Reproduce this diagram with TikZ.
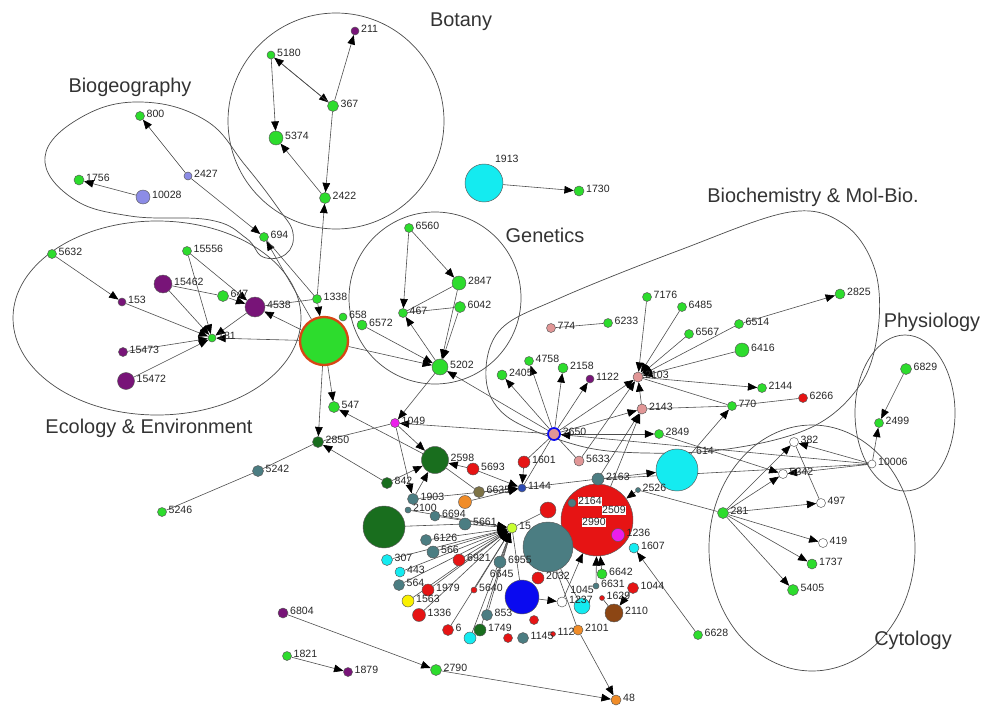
\documentclass[tikz,border=0pt]{standalone}
\usepackage{fontspec}
\setmainfont{Liberation Sans}
\usetikzlibrary{arrows.meta,backgrounds}
\definecolor{cG}{RGB}{45,220,45}
\definecolor{cP}{RGB}{120,20,120}
\definecolor{cDG}{RGB}{25,110,30}
\definecolor{cT}{RGB}{75,125,130}
\definecolor{cC}{RGB}{20,235,240}
\definecolor{cR}{RGB}{230,20,20}
\definecolor{cPK}{RGB}{225,150,150}
\definecolor{cLV}{RGB}{140,140,230}
\definecolor{cMG}{RGB}{235,30,235}
\definecolor{cB}{RGB}{10,10,240}
\definecolor{cO}{RGB}{240,140,40}
\definecolor{cBR}{RGB}{140,70,20}
\definecolor{cOL}{RGB}{125,115,70}
\definecolor{cY}{RGB}{250,240,0}
\definecolor{cYG}{RGB}{200,255,50}
\definecolor{cRim}{RGB}{215,70,20}

\begin{document}
\begin{tikzpicture}[x=0.03cm,y=-0.03cm,label distance=1pt,
  nd/.style={circle,draw=black!65,line width=0.4pt,inner sep=0pt,minimum size=#1*0.3mm},
  lbl/.style={font=\fontsize{9}{9}\selectfont,text=black!85,inner sep=0.5pt,yshift=1.5pt},
  ttl/.style={font=\fontsize{17}{17}\selectfont,text=black!80},
  hull/.style={draw=black!70,line width=0.6pt},
  ar/.style={draw=black!70,line width=0.5pt,-{Triangle[length=8pt,width=6.5pt,color=black]}},
  ln/.style={draw=black!70,line width=0.5pt}]
\useasboundingbox (0,0) rectangle (984,706);

\node[ttl] (tBiogeo) at (130,87) {Biogeography};
\node[ttl] (tBotany) at (461,22) {Botany};
\node[ttl] (tEcol) at (149,428) {Ecology \& Environment};
\node[ttl] (tGen) at (545,235) {Genetics};
\node[ttl] (tBio) at (813,197) {Biochemistry \& Mol-Bio.};
\node[ttl] (tPhys) at (932,322) {Physiology};
\node[ttl] (tCyto) at (913,640) {Cytology};

\node[nd=9,fill=cG,label={[lbl]right:800}] (n800) at (140,116) {};
\node[nd=8,fill=cLV,label={[lbl]right:2427}] (n2427) at (188,176) {};
\node[nd=10,fill=cG,label={[lbl]right:1756}] (n1756) at (79,180) {};
\node[nd=14,fill=cLV,label={[lbl]right:10028}] (n10028) at (143,197) {};
\node[nd=9,fill=cG,label={[lbl]right:694}] (n694) at (264,237) {};

\node[nd=8,fill=cP,label={[lbl]right:211}] (n211) at (355,31) {};
\node[nd=8,fill=cG,label={[lbl]right:5180}] (n5180) at (271,55) {};
\node[nd=11,fill=cG,label={[lbl]right:367}] (n367) at (333,106) {};
\node[nd=14,fill=cG,label={[lbl]right:5374}] (n5374) at (276,138) {};
\node[nd=11,fill=cG,label={[lbl]right:2422}] (n2422) at (325,198) {};

\node[nd=48,fill=cG,draw=cRim,line width=2pt] (bigE) at (324,341) {};
\node[nd=9,fill=cG,label={[lbl]right:5632}] (n5632) at (52,254) {};
\node[nd=9,fill=cG,label={[lbl]right:15556}] (n15556) at (187,251) {};
\node[nd=18,fill=cP,label={[lbl]right:15462}] (n15462) at (163,284) {};
\node[nd=8,fill=cP,label={[lbl]right:153}] (n153) at (122,302) {};
\node[nd=11,fill=cG,label={[lbl]right:647}] (n647) at (223,296) {};
\node[nd=20,fill=cP,label={[lbl]right:4538}] (n4538) at (255,307) {};
\node[nd=9,fill=cG,label={[lbl]right:1338}] (n1338) at (317,299) {};
\node[nd=8,fill=cG,label={[lbl]right:181}] (n181) at (212,338) {};
\node[nd=9,fill=cP,label={[lbl]right:15473}] (n15473) at (123,352) {};
\node[nd=17,fill=cP,label={[lbl]right:15472}] (n15472) at (126,381) {};

\node[nd=9,fill=cG,label={[lbl]right:6560}] (n6560) at (409,228) {};
\node[nd=14,fill=cG,label={[lbl]right:2847}] (n2847) at (459,283) {};
\node[nd=11,fill=cG,label={[lbl]right:6042}] (n6042) at (460,307) {};
\node[nd=9,fill=cG,label={[lbl]right:467}] (n467) at (403,313) {};
\node[nd=8,fill=cG,label={[lbl]right:658}] (n658) at (343,317) {};
\node[nd=10,fill=cG,label={[lbl]right:6572}] (n6572) at (362,325) {};
\node[nd=16,fill=cG,label={[lbl]right:5202}] (n5202) at (440,367) {};
\node[nd=11,fill=cG,label={[lbl]right:547}] (n547) at (334,407) {};
\node[nd=9,fill=cMG,label={[lbl]right:1049}] (n1049) at (395,423) {};
\node[nd=11,fill=cDG,label={[lbl]right:2850}] (n2850) at (318,442) {};
\node[nd=11,fill=cT,label={[lbl]right:5242}] (n5242) at (258,471) {};
\node[nd=9,fill=cG,label={[lbl]right:5246}] (n5246) at (162,512) {};

\node[nd=38,fill=cC,label={[lbl]60:1913}] (n1913) at (484,183) {};
\node[nd=10,fill=cG,label={[lbl]right:1730}] (n1730) at (579,191) {};

\node[nd=9,fill=cPK,label={[lbl]right:774}] (n774) at (551,328) {};
\node[nd=9,fill=cG,label={[lbl]right:6233}] (n6233) at (608,323) {};
\node[nd=9,fill=cG,label={[lbl]right:7176}] (n7176) at (647,297) {};
\node[nd=9,fill=cG,label={[lbl]right:6485}] (n6485) at (682,307) {};
\node[nd=9,fill=cG,label={[lbl]right:6514}] (n6514) at (739,324) {};
\node[nd=10,fill=cG,label={[lbl]right:2825}] (n2825) at (840,294) {};
\node[nd=9,fill=cG,label={[lbl]right:6567}] (n6567) at (689,334) {};
\node[nd=14,fill=cG,label={[lbl]right:6416}] (n6416) at (742,350) {};
\node[nd=9,fill=cG,label={[lbl]right:4758}] (n4758) at (529,361) {};
\node[nd=10,fill=cG,label={[lbl]right:2158}] (n2158) at (563,368) {};
\node[nd=10,fill=cG,label={[lbl]right:2405}] (n2405) at (502,375) {};
\node[nd=8,fill=cP,label={[lbl]right:1122}] (n1122) at (590,379) {};
\node[nd=10,fill=cPK,label={[lbl]right:2103}] (n2103) at (638,377) {};
\node[nd=9,fill=cG,label={[lbl]right:2144}] (n2144) at (762,388) {};
\node[nd=9,fill=cR,label={[lbl]right:6266}] (n6266) at (803,398) {};
\node[nd=9,fill=cG,label={[lbl]right:770}] (n770) at (732,406) {};
\node[nd=10,fill=cPK,label={[lbl]right:2143}] (n2143) at (642,409) {};
\node[nd=12,fill=cPK,draw=cB,line width=1.5pt,label={[lbl]right:2650}] (n2650) at (554,434) {};
\node[nd=9,fill=cG,label={[lbl]right:2849}] (n2849) at (659,434) {};

\node[nd=11,fill=cG,label={[lbl]right:6829}] (n6829) at (906,369) {};
\node[nd=9,fill=cG,label={[lbl]right:2499}] (n2499) at (879,423) {};
\node[nd=8,fill=white,label={[lbl]right:10006}] (n10006) at (872,464) {};

\node[nd=9,fill=white,label={[lbl]right:382}] (n382) at (794,442) {};
\node[nd=9,fill=white,label={[lbl]right:5342}] (n5342) at (783,474) {};
\node[nd=9,fill=white,label={[lbl]right:497}] (n497) at (821,503) {};
\node[nd=9,fill=white,label={[lbl]right:419}] (n419) at (823,543) {};
\node[nd=10,fill=cG,label={[lbl]right:1737}] (n1737) at (812,564) {};
\node[nd=11,fill=cG,label={[lbl]right:5405}] (n5405) at (793,590) {};
\node[nd=11,fill=cG,label={[lbl]right:281}] (n281) at (723,513) {};
\node[nd=42,fill=cC,label={[lbl]35:614}] (n614) at (677,470) {};

\node[nd=72,fill=cR] (bigR) at (597,520) {};
\node[nd=50,fill=cT] (bigT) at (548,547) {};
\node[nd=42,fill=cDG] (bigDG) at (384,527) {};
\node[nd=27,fill=cDG,label={[lbl]right:2598}] (n2598) at (435,460) {};
\node[nd=34,fill=cB,label={[lbl]115:6645}] (n6645) at (522,597) {};
\node[nd=12,fill=cT,label={[lbl]right:2163}] (n2163) at (598,479) {};
\node[nd=5,fill=cT,label={[lbl]right:2526}] (n2526) at (638,490) {};
\node[nd=8,fill=cT,label={[lbl,fill=white]right:2164}] (n2164) at (572,503) {};
\node[nd=4,fill=cR,draw=none,label={[lbl,fill=white]right:2509}] (n2509) at (598,512) {};
\node[nd=4,fill=cR,draw=none,label={[lbl,fill=white]right:2990}] (n2990) at (578,524) {};
\node[nd=13,fill=cMG,label={[lbl]right:1236}] (n1236) at (618,535) {};
\node[nd=10,fill=cC,label={[lbl]right:1607}] (n1607) at (634,548) {};
\node[nd=10,fill=cG,label={[lbl]right:6642}] (n6642) at (602,574) {};
\node[nd=6,fill=cT,label={[lbl]right:6631}] (n6631) at (596,586) {};
\node[nd=11,fill=cR,label={[lbl]right:1044}] (n1044) at (633,588) {};
\node[nd=16,fill=cC,label={[lbl]above:1045}] (n1045) at (582,606) {};
\node[nd=5,fill=cR,label={[lbl]right:1629}] (n1629) at (602,598) {};
\node[nd=18,fill=cBR,label={[lbl]right:2110}] (n2110) at (614,613) {};
\node[nd=10,fill=white,label={[lbl]right:1237}] (n1237) at (562,602) {};
\node[nd=10,fill=cO,label={[lbl]right:2101}] (n2101) at (578,630) {};
\node[nd=5,fill=cR,label={[lbl]right:112}] (n112) at (553,634) {};
\node[nd=10,fill=cO,label={[lbl]right:48}] (n48) at (616,700) {};
\node[nd=9,fill=cG,label={[lbl]right:6628}] (n6628) at (698,635) {};
\node[nd=11,fill=cG,label={[lbl]right:2790}] (n2790) at (436,670) {};
\node[nd=9,fill=cP,label={[lbl]right:1879}] (n1879) at (348,672) {};
\node[nd=9,fill=cG,label={[lbl]right:1821}] (n1821) at (287,656) {};
\node[nd=10,fill=cP,label={[lbl]right:6804}] (n6804) at (283,613) {};

\node[nd=12,fill=cR,label={[lbl]right:2032}] (n2032) at (538,578) {};
\node[nd=12,fill=cT,label={[lbl]right:6955}] (n6955) at (500,562) {};
\node[nd=12,fill=cR,label={[lbl]right:1601}] (n1601) at (524,462) {};
\node[nd=10,fill=cPK,label={[lbl]right:5633}] (n5633) at (579,461) {};
\node[nd=8,fill=cT!60!blue,label={[lbl]right:1144}] (n1144) at (522,488) {};
\node[nd=10,fill=cYG,label={[lbl]right:15}] (n15) at (512,528) {};
\node[nd=16,fill=cR] (nR2) at (548,510) {};
\node[nd=12,fill=cR,label={[lbl]right:5693}] (n5693) at (473,469) {};
\node[nd=11,fill=cOL,label={[lbl]right:6635}] (n6635) at (479,492) {};
\node[nd=13,fill=cO] (nOr) at (465,502) {};
\node[nd=11,fill=cDG,label={[lbl]right:842}] (n842) at (387,483) {};
\node[nd=11,fill=cT,label={[lbl]right:1903}] (n1903) at (413,499) {};
\node[nd=6,fill=cT,label={[lbl]right:2100}] (n2100) at (408,510) {};
\node[nd=10,fill=cT,label={[lbl]right:6694}] (n6694) at (435,516) {};
\node[nd=12,fill=cT,label={[lbl]right:5661}] (n5661) at (465,524) {};
\node[nd=11,fill=cT,label={[lbl]right:6126}] (n6126) at (426,540) {};
\node[nd=12,fill=cT,label={[lbl]right:566}] (n566) at (433,552) {};
\node[nd=11,fill=cC,label={[lbl]right:307}] (n307) at (387,560) {};
\node[nd=12,fill=cR,label={[lbl]right:6921}] (n6921) at (459,560) {};
\node[nd=10,fill=cC,label={[lbl]right:443}] (n443) at (400,572) {};
\node[nd=11,fill=cT,label={[lbl]right:564}] (n564) at (399,585) {};
\node[nd=12,fill=cR,label={[lbl]right:1979}] (n1979) at (428,590) {};
\node[nd=12,fill=cY,label={[lbl]right:1563}] (n1563) at (408,601) {};
\node[nd=13,fill=cR,label={[lbl]right:1336}] (n1336) at (419,615) {};
\node[nd=11,fill=cR,label={[lbl]right:6}] (n6) at (448,630) {};
\node[nd=6,fill=cR,label={[lbl]right:5640}] (n5640) at (474,590) {};
\node[nd=11,fill=cT,label={[lbl]right:853}] (n853) at (487,615) {};
\node[nd=12,fill=cDG,label={[lbl]right:1749}] (n1749) at (480,630) {};
\node[nd=12,fill=cC] (nCy) at (470,638) {};
\node[nd=9,fill=cR] (nR3) at (508,638) {};
\node[nd=11,fill=cT,label={[lbl]right:1145}] (n1145) at (523,638) {};
\node[nd=9,fill=cR] (nR5) at (534,620) {};

\begin{scope}[on background layer]
\fill[white] (0,0) rectangle (984,706);
\draw[hull] plot[smooth cycle,tension=0.7] coordinates {(45,157) (72,198) (130,216) (210,220) (246,238) (263,257) (286,254) (293,233) (278,208) (245,165) (205,120) (140,102) (80,118)};
\draw[hull] (336,121) circle [radius=108];
\draw[hull] (157,318) ellipse [x radius=144,y radius=97];
\draw[hull] (435,298) circle [radius=86];
\draw[hull] plot[smooth cycle,tension=0.6] coordinates {(486,378) (500,330) (560,298) (680,250) (790,212) (845,225) (875,270) (878,330) (860,385) (810,428) (720,450) (620,452) (560,440) (505,415)};
\draw[hull] (905,413) ellipse [x radius=50,y radius=78];
\draw[hull] (812,548) ellipse [x radius=103,y radius=123];

\draw[ar] (n2427) -- (n800);
\draw[ar] (n2427) -- (n694);
\draw[ar] (n10028) -- (n1756);
\draw[ar] (bigE) -- (n694);
\draw[ln] (n1338) -- (n694);
\draw[ar] (n367) -- (n211);
\draw[ar] (n5180) -- (n367);
\draw[ar] (n367) -- (n5180);
\draw[ar] (n5180) -- (n5374);
\draw[ar] (n367) -- (n2422);
\draw[ar] (n2422) -- (n5374);
\draw[ar] (n1338) -- (n2422);
\draw[ar] (n5632) -- (n153);
\draw[ar] (n153) -- (n181);
\draw[ar] (n15462) -- (n181);
\draw[ar] (n15556) -- (n181);
\draw[ar] (n15473) -- (n181);
\draw[ar] (n15472) -- (n181);
\draw[ar] (n4538) -- (n181);
\draw[ar] (bigE) -- (n181);
\draw[ln] (n15462) -- (n647);
\draw[ar] (n15556) -- (n4538);
\draw[ar] (n647) -- (n4538);
\draw[ar] (bigE) -- (n4538);
\draw[ln] (n1338) -- (n4538);
\draw[ar] (n1338) -- (bigE);
\draw[ar] (n6560) -- (n467);
\draw[ar] (n6560) -- (n2847);
\draw[ln] (n2847) -- (n467);
\draw[ln] (n6042) -- (n467);
\draw[ar] (n2847) -- (n5202);
\draw[ar] (n6042) -- (n5202);
\draw[ar] (n5202) -- (n467);
\draw[ar] (bigE) -- (n5202);
\draw[ar] (n6572) -- (n5202);
\draw[ar] (n2650) -- (n5202);
\draw[ar] (n5202) -- (n1049);
\draw[ar] (bigE) -- (n547);
\draw[ar] (bigE) -- (n2850);
\draw[ar] (n2598) -- (n547);
\draw[ar] (n842) -- (n2850);
\draw[ln] (n1049) -- (n2850);
\draw[ar] (n2650) -- (n1049);
\draw[ar] (n1049) -- (n2598);
\draw[ar] (n1049) -- (n1903);
\draw[ar] (n842) -- (n2598);
\draw[ar] (n1903) -- (n2598);
\draw[ar] (n5693) -- (n2598);
\draw[ln] (n2598) -- (n6635);
\draw[ln] (n2850) -- (n5242);
\draw[ln] (n5242) -- (n5246);
\draw[ar] (n1913) -- (n1730);

\draw[ar] (n2650) -- (n2405);
\draw[ar] (n2650) -- (n4758);
\draw[ar] (n2650) -- (n2158);
\draw[ar] (n2650) -- (n1122);
\draw[ar] (n2650) -- (n2103);
\draw[ar] (n2650) -- (n2143);
\draw[ar] (n2650) -- (n2849);
\draw[ar] (n7176) -- (n2103);
\draw[ar] (n6485) -- (n2103);
\draw[ar] (n6567) -- (n2103);
\draw[ar] (n6514) -- (n2103);
\draw[ar] (n6416) -- (n2103);
\draw[ar] (n6514) -- (n2825);
\draw[ln] (n6233) -- (n774);
\draw[ar] (n2143) -- (n2103);
\draw[ar] (n2103) -- (n2144);
\draw[ln] (n2103) -- (n770);
\draw[ln] (n2143) -- (n770);
\draw[ln] (n770) -- (n6266);
\draw[ar] (n614) -- (n770);
\draw[ar] (n5633) -- (n2103);
\draw[ar] (n2163) -- (n2143);
\draw[ar] (bigR) -- (n2143);
\draw[ar] (n10006) -- (n2650);
\draw[ln] (n10006) -- (n2163);

\draw[ar] (n6829) -- (n2499);
\draw[ar] (n10006) -- (n2499);
\draw[ar] (n10006) -- (n382);
\draw[ar] (n10006) -- (n5342);
\draw[ar] (n2849) -- (n5342);
\draw[ar] (n281) -- (n382);
\draw[ar] (n281) -- (n5342);
\draw[ar] (n281) -- (n497);
\draw[ar] (n281) -- (n419);
\draw[ar] (n281) -- (n1737);
\draw[ar] (n281) -- (n5405);
\draw[ln] (n382) -- (n497);
\draw[ln] (n281) -- (n2526);
\draw[ar] (n2526) -- (bigR);
\draw[ar] (n2163) -- (n614);

\draw[ar] (n6628) -- (n1607);
\draw[ar] (n1044) -- (n2110);
\draw[ln] (n1629) -- (n2110);
\draw[ar] (n6642) -- (bigR);
\draw[ar] (n6631) -- (bigR);
\draw[ln] (bigT) -- (n1045);
\draw[ar] (n6645) -- (n1237);
\draw[ar] (n1237) -- (bigR);
\draw[ln] (n2101) -- (bigT);
\draw[ar] (n2101) -- (n48);
\draw[ar] (n2790) -- (n48);
\draw[ar] (n6804) -- (n2790);
\draw[ar] (n1821) -- (n1879);

\draw[ar] (n6126) -- (n15);
\draw[ar] (n566) -- (n15);
\draw[ar] (n6921) -- (n15);
\draw[ar] (n1979) -- (n15);
\draw[ar] (n564) -- (n15);
\draw[ar] (n443) -- (n15);
\draw[ar] (n307) -- (n15);
\draw[ar] (n1563) -- (n15);
\draw[ar] (n1336) -- (n15);
\draw[ar] (n6) -- (n15);
\draw[ar] (n5640) -- (n15);
\draw[ar] (n853) -- (n15);
\draw[ar] (n1749) -- (n15);
\draw[ar] (nCy) -- (n15);
\draw[ar] (n6694) -- (n15);
\draw[ar] (n5661) -- (n15);
\draw[ar] (n2100) -- (n15);
\draw[ar] (n6955) -- (n15);
\draw[ln] (bigDG) -- (n5661);
\draw[ln] (n6645) -- (n15);
\draw[ar] (n5693) -- (n1144);
\draw[ar] (n6635) -- (n1144);
\draw[ar] (nOr) -- (n1144);
\draw[ar] (n1903) -- (n1144);
\draw[ar] (n1601) -- (n1144);
\draw[ln] (n1601) -- (n2650);
\draw[ln] (n2650) -- (n1144);
\draw[ln] (n5633) -- (n2650);
\draw[ln] (n1144) -- (n2163);
\draw[ln] (n15) -- (nR2);
\end{scope}
\end{tikzpicture}
\end{document}
